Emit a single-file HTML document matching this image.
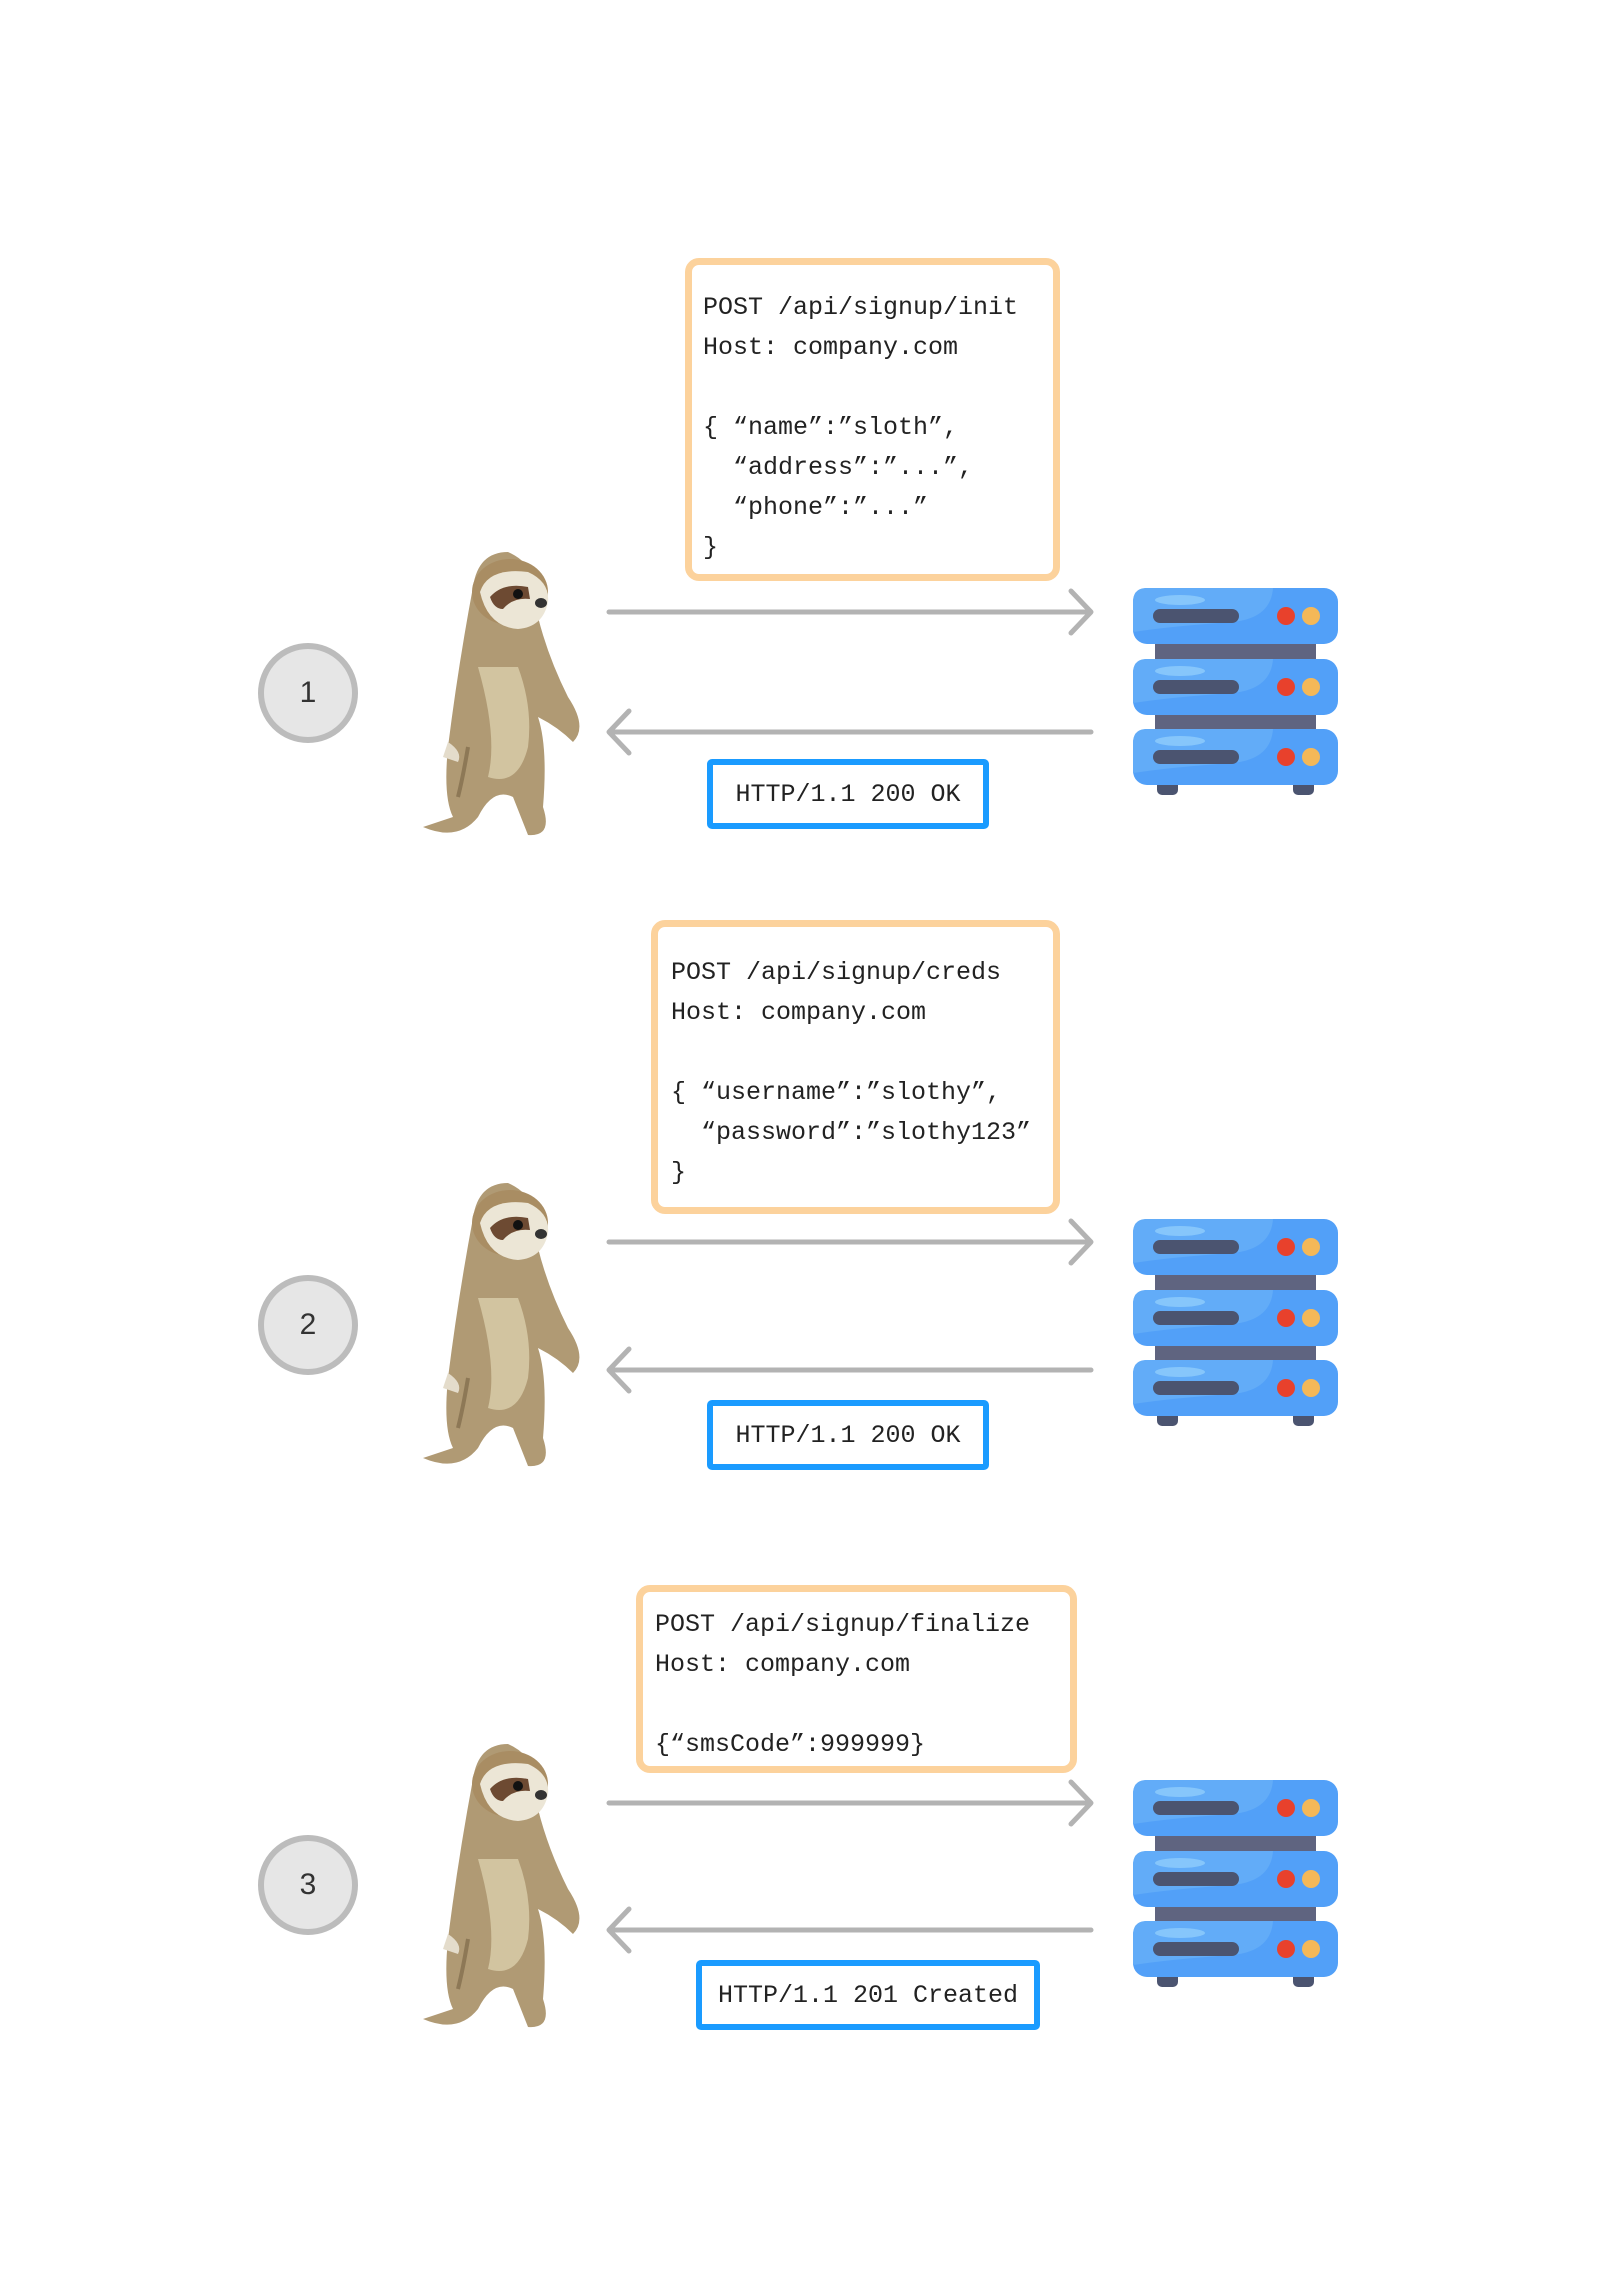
<!DOCTYPE html>
<html><head><meta charset="utf-8"><style>
body{margin:0;background:#fff;width:1604px;height:2292px;position:relative;overflow:hidden;font-family:"Liberation Mono",monospace;}
.ob{position:absolute;border:7px solid #fcd29c;border-radius:14px;box-sizing:border-box;background:#fff;}
.t{position:absolute;font-size:25px;color:#222;white-space:pre;line-height:1;}
.bb{position:absolute;border:6px solid #1a9bff;border-radius:5px;box-sizing:border-box;font-size:25px;color:#222;display:flex;align-items:center;justify-content:center;white-space:pre;}
.c{position:absolute;width:100px;height:100px;border-radius:50%;border:6px solid #bcbcbc;background:#e6e6e6;box-sizing:border-box;display:flex;align-items:center;justify-content:center;font-family:"Liberation Sans",sans-serif;font-size:30px;color:#333;}
svg{position:absolute;left:0;top:0;}
</style></head><body>
<svg width="1604" height="2292">
<defs>
<g id="srv">
<rect x="22" y="40" width="161" height="120" fill="#5f6480"/>
<rect x="24" y="192" width="21" height="15" rx="5" fill="#4b5470"/>
<rect x="160" y="192" width="21" height="15" rx="5" fill="#4b5470"/>
<g id="row">
<rect x="0" y="0" width="205" height="56" rx="14" fill="#52a0f8"/>
<path d="M14 0 H140 Q138 30 100 34 Q40 38 0 44 V14 Q0 0 14 0Z" fill="#62acf8"/>
<ellipse cx="47" cy="12" rx="25" ry="5" fill="#86c6fb"/>
<rect x="20" y="21" width="86" height="14" rx="7" fill="#4b5470"/>
<circle cx="153" cy="28" r="9" fill="#e8412c"/>
<circle cx="178" cy="28" r="9" fill="#f4b858"/>
</g>
<use href="#row" y="71"/>
<use href="#row" y="141"/>
</g>
<g id="sloth">
<path d="M55 40 Q40 120 30 200 Q25 250 35 270 L5 280 Q40 295 60 270 Q75 240 95 250 L110 288 Q135 290 125 260 Q130 200 120 170 Q140 180 155 195 Q170 180 150 150 Q130 110 120 70 Q125 20 90 5 Q60 5 55 40Z" fill="#b09a74"/>
<path d="M60 120 Q80 190 70 230 Q100 240 110 200 Q115 160 100 120Z" fill="#d2c4a0"/>
<ellipse cx="92" cy="45" rx="38" ry="33" fill="#a98d63"/>
<path d="M62 45 Q70 20 110 25 Q132 35 130 55 Q125 80 100 82 Q70 80 62 45Z" fill="#ece6d6"/>
<path d="M72 50 Q85 35 110 40 L112 52 Q95 50 85 62 Q76 62 72 50Z" fill="#6d4a32"/>
<circle cx="100" cy="47" r="5" fill="#111"/>
<ellipse cx="123" cy="56" rx="6" ry="5" fill="#333"/>
<path d="M50 200 Q45 230 40 250" stroke="#8d7856" stroke-width="4" fill="none"/>
<path d="M30 195 Q45 205 40 215 L25 210Z" fill="#e4dccb"/>
</g>
<g id="ar">
<line x1="609" y1="0" x2="1089" y2="0" stroke="#b3b3b3" stroke-width="5" stroke-linecap="round"/>
<polyline points="1071,-21 1091,0 1071,21" fill="none" stroke="#b3b3b3" stroke-width="5" stroke-linecap="round" stroke-linejoin="round"/>
</g>
<g id="al">
<line x1="611" y1="0" x2="1091" y2="0" stroke="#b3b3b3" stroke-width="5" stroke-linecap="round"/>
<polyline points="629,-21 609,0 629,21" fill="none" stroke="#b3b3b3" stroke-width="5" stroke-linecap="round" stroke-linejoin="round"/>
</g>
</defs>
<use href="#srv" x="1133" y="588"/>
<use href="#srv" x="1133" y="1219"/>
<use href="#srv" x="1133" y="1780"/>
<use href="#sloth" x="418" y="547"/>
<use href="#sloth" x="418" y="1178"/>
<use href="#sloth" x="418" y="1739"/>
<use href="#ar" y="612"/>
<use href="#al" y="732"/>
<use href="#ar" y="1242"/>
<use href="#al" y="1370"/>
<use href="#ar" y="1803"/>
<use href="#al" y="1930"/>
</svg>

<div class="c" style="left:258px;top:643px">1</div>
<div class="c" style="left:258px;top:1275px">2</div>
<div class="c" style="left:258px;top:1835px">3</div>

<div class="ob" style="left:685px;top:258px;width:375px;height:323px"></div>
<div class="t" style="left:703px;top:295px">POST /api/signup/init</div>
<div class="t" style="left:703px;top:335px">Host: company.com</div>
<div class="t" style="left:703px;top:415px">{ “name”:”sloth”,</div>
<div class="t" style="left:703px;top:455px">  “address”:”...”,</div>
<div class="t" style="left:703px;top:495px">  “phone”:”...”</div>
<div class="t" style="left:703px;top:535px">}</div>
<div class="bb" style="left:707px;top:759px;width:282px;height:70px">HTTP/1.1 200 OK</div>

<div class="ob" style="left:651px;top:920px;width:409px;height:294px"></div>
<div class="t" style="left:671px;top:960px">POST /api/signup/creds</div>
<div class="t" style="left:671px;top:1000px">Host: company.com</div>
<div class="t" style="left:671px;top:1080px">{ “username”:”slothy”,</div>
<div class="t" style="left:671px;top:1120px">  “password”:”slothy123”</div>
<div class="t" style="left:671px;top:1160px">}</div>
<div class="bb" style="left:707px;top:1400px;width:282px;height:70px">HTTP/1.1 200 OK</div>

<div class="ob" style="left:636px;top:1585px;width:441px;height:188px"></div>
<div class="t" style="left:655px;top:1612px">POST /api/signup/finalize</div>
<div class="t" style="left:655px;top:1652px">Host: company.com</div>
<div class="t" style="left:655px;top:1732px">{“smsCode”:999999}</div>
<div class="bb" style="left:696px;top:1960px;width:344px;height:70px">HTTP/1.1 201 Created</div>
</body></html>
